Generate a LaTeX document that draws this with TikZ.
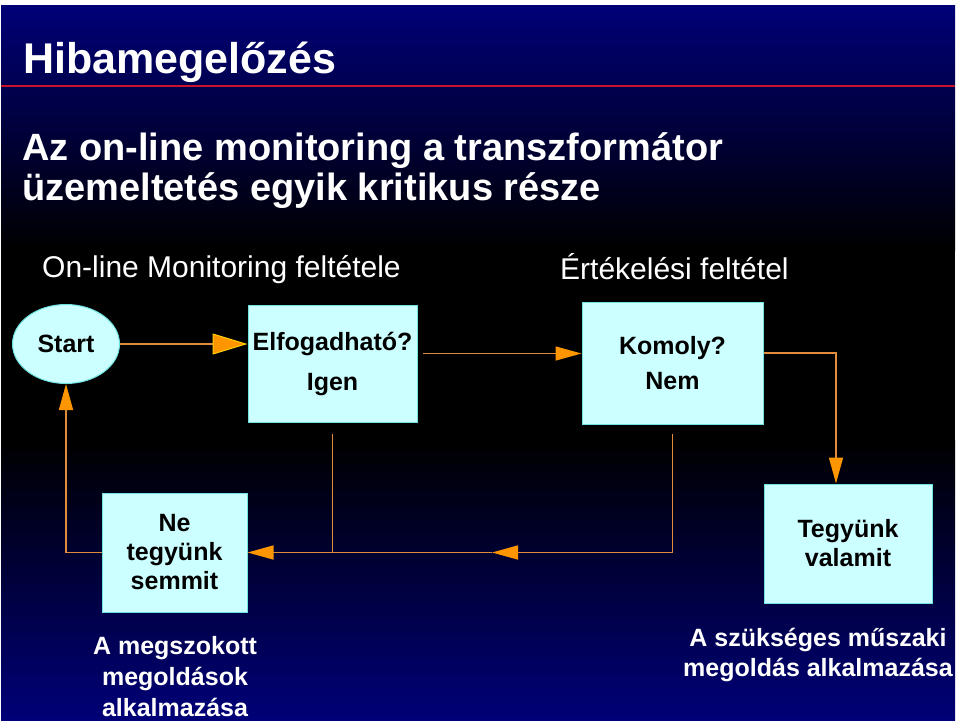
\documentclass[tikz,border=0pt]{standalone}
\usepackage{fontspec}
\setmainfont{Liberation Sans}
\usetikzlibrary{shapes.geometric, arrows.meta, positioning}

\definecolor{navy}{RGB}{0,0,120}
\definecolor{boxfill}{RGB}{204,255,255}
\definecolor{boxline}{RGB}{110,225,225}
\definecolor{linecol}{RGB}{225,140,60}
\definecolor{tipcol}{RGB}{255,150,0}
\definecolor{tipedge}{RGB}{255,205,0}
\definecolor{redline}{RGB}{200,20,40}

\begin{document}
\begin{tikzpicture}[x=1pt, y=-1pt]
        \tikzset{
          procbox/.style={rectangle, draw=boxline, line width=1pt, fill=boxfill,
            align=center, inner sep=0pt, font=\bfseries\fontsize{25}{29}\selectfont},
          label/.style={text=white, inner sep=0pt},
          flow/.style={draw=linecol, line width=1.5pt,
            -{Triangle[length=26pt, width=14pt, color=tipcol]}},
          plain/.style={draw=linecol, line width=1.5pt}
        }
        \useasboundingbox (0,0) rectangle (960,723);
        % slide background
        \fill[white] (0,0) rectangle (960,723);
        \shade[top color=navy, bottom color=black] (1,5) rectangle (955,250);
        \fill[black] (1,250) rectangle (955,440);
        \shade[top color=black, bottom color=navy] (1,440) rectangle (955,720);
        \draw[redline, line width=2pt] (1,85.5) -- (955,85.5);

        \node[label, anchor=base west, font=\bfseries\fontsize{43}{48}\selectfont] (title) at (23,73) {Hibamegelőzés};
        \node[label, anchor=base west, align=left, font=\bfseries\fontsize{38}{40}\selectfont] (sub) at (22,200)
          {Az on-line monitoring a transzformátor\\üzemeltetés egyik kritikus része};
        \node[label, anchor=base west, font=\fontsize{30}{34}\selectfont] (onl) at (42,277) {On-line Monitoring feltétele};
        \node[label, anchor=base west, font=\fontsize{30}{34}\selectfont] (ert) at (560,279) {Értékelési feltétel};

        \node[ellipse, draw=boxline, line width=1pt, fill=boxfill, minimum width=107pt, minimum height=79pt,
          font=\bfseries\fontsize{25}{29}\selectfont] (start) at (66,344) {Start};
        \node[procbox, minimum width=169pt, minimum height=117pt, font=\bfseries\fontsize{25}{40}\selectfont] (elf) at (332.5,363.5) {Elfogadható?\\Igen};
        \node[procbox, minimum width=181pt, minimum height=122pt, font=\bfseries\fontsize{25}{35}\selectfont] (kom) at (672.5,363) {Komoly?\\Nem};
        \node[procbox, minimum width=145pt, minimum height=119pt] (ne) at (174.5,552.5) {Ne\\tegyünk\\semmit};
        \node[procbox, minimum width=168pt, minimum height=119pt] (teg) at (848,543.5) {Tegyünk\\valamit};

        \node[label, align=center, font=\bfseries\fontsize{25}{31}\selectfont] (lab1) at (175,677) {A megszokott\\megoldások\\alkalmazása};
        \node[label, align=center, font=\bfseries\fontsize{25}{30}\selectfont] (lab2) at (818,655) {A szükséges műszaki\\megoldás alkalmazása};

        \coordinate (corner) at (836,353);
        \coordinate (mid) at (492,552.5);

        \draw[flow, -{Triangle[length=35pt, width=21pt, color=tipedge, fill=tipcol, line width=1pt]}]
          (start.east) -- (start.east -| elf.west);
        \draw[flow, shorten <=5pt] ([yshift=10pt]elf.east) -- ([yshift=10pt]elf.east -| kom.west);
        \draw[flow] ([yshift=10pt]kom.east) -- (corner) -- (corner |- teg.north);
        \draw[flow, shorten <=9pt] (kom.south) |- (mid);
        \draw[flow] (mid) -- (ne.east);
        \draw[plain, shorten <=11pt] (elf.south) -- (elf.south |- ne.east);
        \draw[flow] (ne.west) -| (start.south);
\end{tikzpicture}
\end{document}
